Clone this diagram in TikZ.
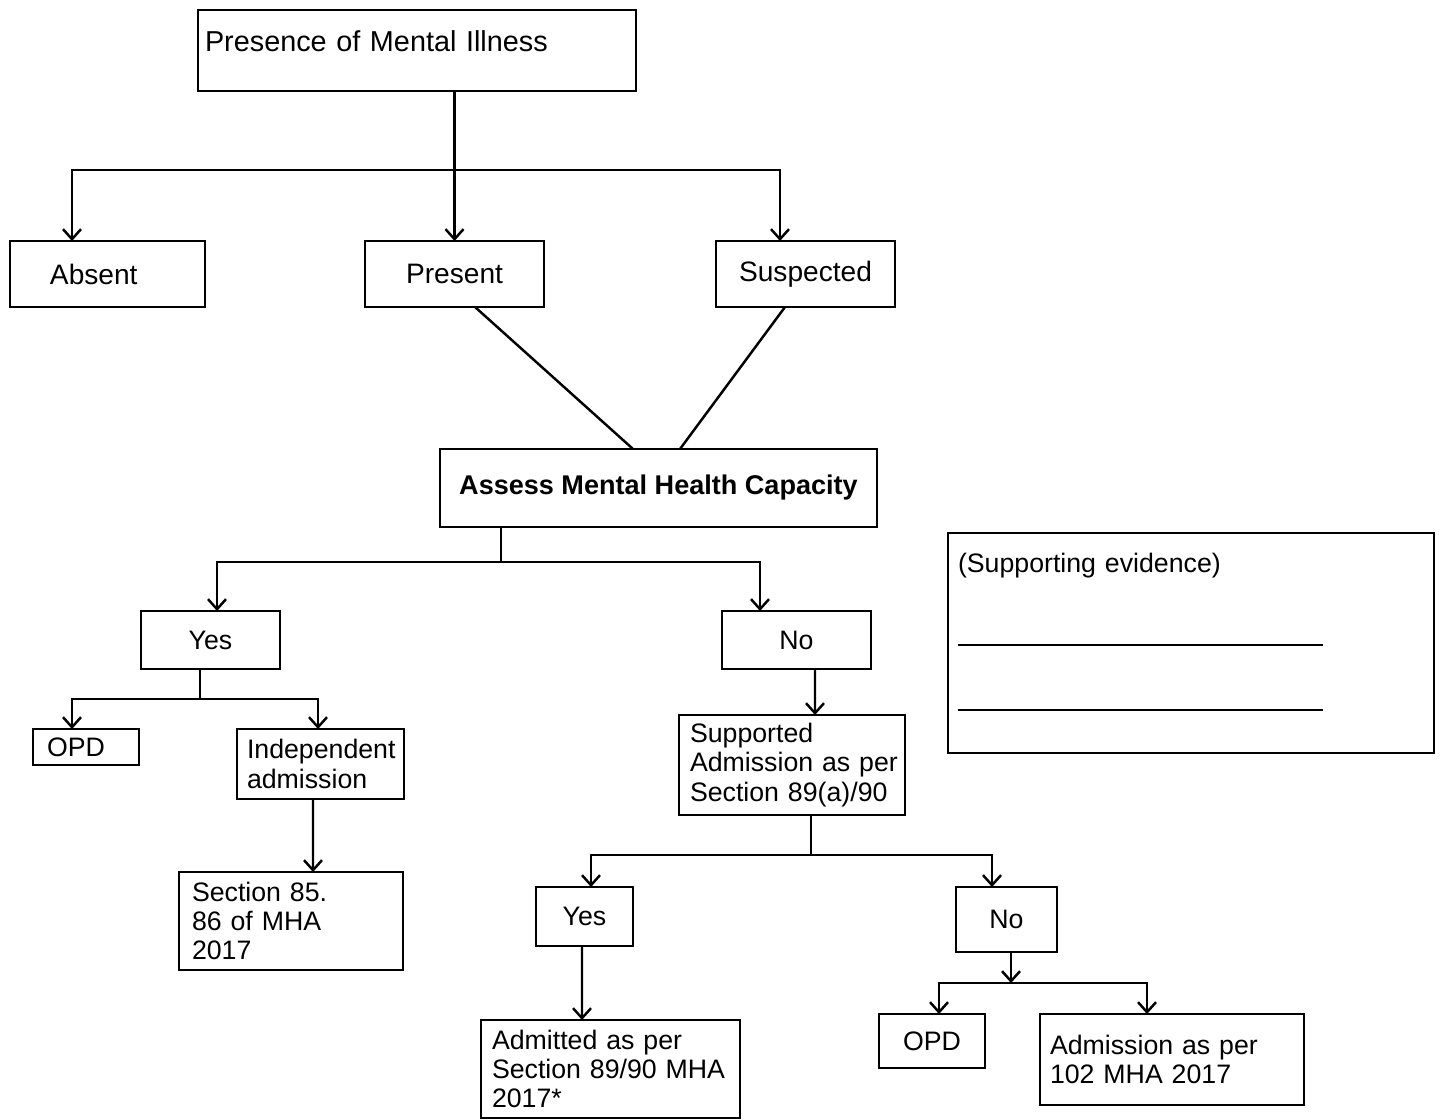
\documentclass[tikz,border=0pt]{standalone}
\usepackage{fontspec}
\setmainfont{Liberation Sans}
\usetikzlibrary{arrows.meta}

\begin{document}
\begin{tikzpicture}[x=0.1mm,y=-0.1mm,font=\fontsize{7.6}{8.3}\selectfont,
  box/.style={draw,line width=0.8pt,inner sep=0pt,outer sep=0pt,anchor=north west},
  lbox/.style={box,align=left},
  big/.style={font=\fontsize{8}{9}\selectfont},
  arr/.style={-{Straight Barb[length=1mm,width=1.8mm]},line width=0.7pt},
  ln/.style={line width=0.7pt}]
\useasboundingbox (0,0) rectangle (1440,1120);
% boxes
\node[lbox,font=\fontsize{8.2}{9}\selectfont,text width=42.4mm,inner xsep=0.7mm,text height=4.2mm,text depth=3.9mm] (pres) at (198,10) {Presence of Mental Illness};
\node[lbox,big,text width=11.5mm,inner xsep=4mm,minimum height=6.6mm] (absent) at (10,241) {Absent};
\node[box,big,minimum width=17.9mm,minimum height=6.6mm] (present) at (365,241) {Present};
\node[box,big,minimum width=17.9mm,minimum height=6.6mm] (susp) at (716,241) {Suspected};
\node[box,font=\fontsize{7.7}{8.3}\selectfont\bfseries,minimum width=43.7mm,minimum height=7.8mm] (assess) at (440,449) {Assess Mental Health Capacity};
\node[lbox,text width=46.6mm,inner xsep=1mm,text height=4mm,text depth=18mm] (evid) at (948,533) {(Supporting evidence)};
\node[box,minimum width=13.9mm,minimum height=5.8mm] (yes) at (141,611) {Yes};
\node[box,minimum width=14.9mm,minimum height=5.8mm] (no) at (722,611) {No};
\node[lbox,text width=7.8mm,inner xsep=1.4mm,minimum height=3.6mm] (opd) at (33,729) {OPD};
\node[lbox,text width=14.7mm,inner xsep=1mm,minimum height=7mm] (indep) at (237,729) {Independent\\admission};
\node[lbox,text width=19.8mm,inner xsep=1.3mm,minimum height=9.8mm] (sec) at (179,872) {Section 85.\\86 of MHA\\2017};
\node[lbox,text width=20.4mm,inner xsep=1.1mm,minimum height=10mm] (supp) at (679,715) {Supported\\\makebox[20.2mm][s]{Admission as per}\\Section 89(a)/90};
\node[box,minimum width=9.7mm,minimum height=5.9mm] (yes2) at (536,887) {Yes};
\node[box,minimum width=10.1mm,minimum height=6.5mm] (no2) at (956,887) {No};
\node[lbox,text width=23.7mm,inner xsep=1.1mm,minimum height=9.8mm] (admit) at (481,1020) {Admitted as per\\Section 89/90 MHA\\2017*};
\node[box,minimum width=10.6mm,minimum height=5.4mm] (opd2) at (879,1014) {OPD};
\node[lbox,text width=24.4mm,inner xsep=1mm,minimum height=9.1mm] (adm) at (1040,1014) {Admission as per\\102 MHA 2017};
\draw[ln] (958,645) -- (1323,645);
\draw[ln] (958,710) -- (1323,710);
% connectors
\coordinate (j1) at (454.5,170);
\coordinate (j2) at (501,562);
\coordinate (j3) at (200,699);
\coordinate (j4) at (811,855);
\coordinate (j5) at (1011,983);
\draw[arr] (pres.south -| present.north) -- (present.north);
\draw[arr] (j1) -| ([xshift=-3.55mm]absent.north);
\draw[arr] (j1) -| ([xshift=-2.55mm]susp.north);
\draw[ln] ([xshift=2.05mm]present.south) -- ([xshift=-2.55mm]assess.north);
\draw[ln] ([xshift=-2.05mm]susp.south) -- ([xshift=2.15mm]assess.north);
\draw[ln] (j2 |- assess.south) -- (j2);
\draw[arr] (j2) -| ([xshift=0.65mm]yes.north);
\draw[arr] (j2) -| ([xshift=-3.65mm]no.north);
\draw[ln] (j3 |- yes.south) -- (j3);
\draw[arr] (j3) -| ([xshift=-1.4mm]opd.north);
\draw[arr] (j3) -| ([xshift=-0.25mm]indep.north);
\draw[arr] ([xshift=-0.75mm]indep.south) -- ([xshift=2.2mm]sec.north);
\draw[arr] ([xshift=1.85mm]no.south) -- ([xshift=2.3mm]supp.north);
\draw[ln] (j4 |- supp.south) -- (j4);
\draw[arr] (j4) -| ([xshift=0.65mm]yes2.north);
\draw[arr] (j4) -| ([xshift=-1.45mm]no2.north);
\draw[arr] ([xshift=-0.25mm]yes2.south) -- ([xshift=-2.85mm]admit.north);
\draw[arr] (j5 |- no2.south) -- (j5);
\draw[arr] (j5) -| ([xshift=0.7mm]opd2.north);
\draw[arr] (j5) -| ([xshift=-2.5mm]adm.north);
\end{tikzpicture}
\end{document}
